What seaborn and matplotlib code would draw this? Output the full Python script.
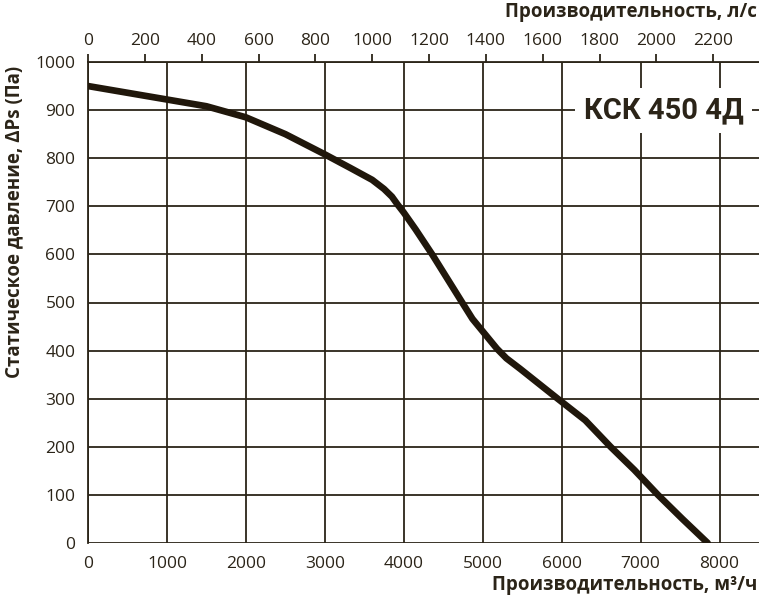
import matplotlib
matplotlib.use("Agg")
import matplotlib.pyplot as plt
import seaborn as sns
import pandas as pd

# fan curve
flow_m3h = [0, 500, 1000, 1500, 2000, 2500, 3000, 3320, 3600, 3750, 3850, 3920, 4000, 4150,
            4360, 4550, 4740, 4870, 5000, 5180, 5300, 5475, 5950, 6300, 6620, 6920, 7220,
            7530, 7850]
pressure_pa = [950, 936, 922, 908, 885, 850, 808, 780, 755, 736, 720, 704, 687, 652,
               600, 550, 500, 466, 440, 404, 384, 362, 300, 255, 200, 152, 100,
               50, 0]

x_ticks = [0, 1000, 2000, 3000, 4000, 5000, 6000, 7000, 8000]
y_ticks = [0, 100, 200, 300, 400, 500, 600, 700, 800, 900, 1000]
top_ticks = [0, 200, 400, 600, 800, 1000, 1200, 1400, 1600, 1800, 2000, 2200]

model_name = "КСК 450 4Д"
x_label = "Производительность, м³/ч"
top_label = "Производительность, л/с"
y_label = "Статическое давление, ΔPs (Па)"

df = pd.DataFrame({"flow": flow_m3h, "pressure": pressure_pa})

sns.set_style("white")
plt.rcParams['font.family'] = ['Open Sans', 'DejaVu Sans']

ink = "#2b2418"
curve = "#20170b"

fig = plt.figure(figsize=(7.59, 6.02), dpi=100)
ax = fig.add_axes([88 / 759, 1 - 543 / 602, (759 - 88) / 759, (543 - 62) / 602])

ax.set_xlim(0, 8500)
ax.set_ylim(0, 1000)
ax.set_xticks(x_ticks)
ax.set_yticks(y_ticks)
ax.grid(True, color=ink, linewidth=1.3)
ax.set_axisbelow(True)

sns.lineplot(data=df, x="flow", y="pressure", ax=ax, color=curve, linewidth=4.8,
             solid_capstyle="round", solid_joinstyle="round", zorder=3)
ax.set_xlabel("")
ax.set_ylabel("")

for side in ["right", "bottom"]:
    ax.spines[side].set_visible(False)
for side in ["left", "top"]:
    ax.spines[side].set_color(ink)
    ax.spines[side].set_linewidth(1.3)

ax.tick_params(axis="both", direction="out", length=6, width=1.3, color=ink,
               labelcolor=ink, labelsize=12.5, pad=3)

sec = ax.secondary_xaxis("top", functions=(lambda v: v / 3.6, lambda v: v * 3.6))
sec.set_xticks(top_ticks)
sec.tick_params(direction="out", length=6, width=1.3, color=ink,
                labelcolor=ink, labelsize=12.5, pad=3)
sec.spines["top"].set_visible(False)

ax.text(7290, 900, model_name, ha="center", va="center", fontsize=21,
        fontweight="bold", color=ink, family=['Roboto', 'DejaVu Sans'],
        bbox=dict(facecolor="white", edgecolor="none", pad=6), zorder=4)

fig.text(757 / 759, 1 - 585 / 602, x_label, ha="right", va="center",
         fontsize=13.5, fontweight="bold", color=ink)
fig.text(757 / 759, 1 - 12 / 602, top_label, ha="right", va="center",
         fontsize=13.5, fontweight="bold", color=ink)
fig.text(14 / 759, 1 - 222 / 602, y_label, ha="center", va="center", rotation=90,
         fontsize=13.5, fontweight="bold", color=ink)

fig.savefig("out.png", dpi=100, facecolor="white")
